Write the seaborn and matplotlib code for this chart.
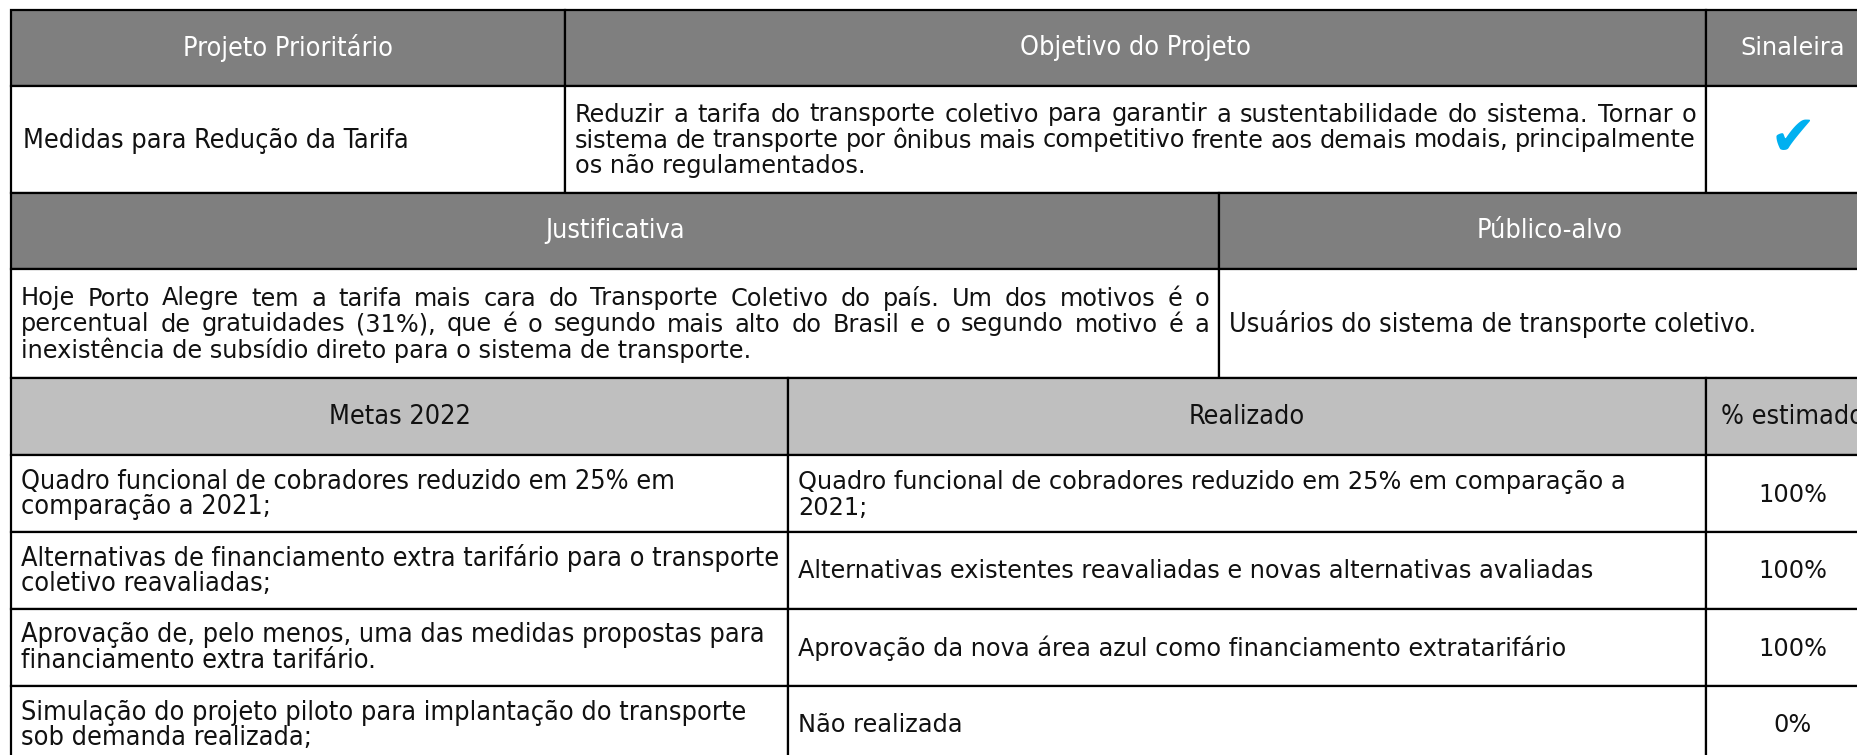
import matplotlib
matplotlib.use("Agg")
import matplotlib.pyplot as plt
import seaborn as sns
from matplotlib.patches import Rectangle
from matplotlib.font_manager import FontProperties

# ---------------- data ----------------
header_top = ["Projeto Prioritário", "Objetivo do Projeto", "Sinaleira"]
project_name = "Medidas para Redução da Tarifa"
objective_lines = [
    "Reduzir a tarifa do transporte coletivo para garantir a sustentabilidade do sistema. Tornar o",
    "sistema de transporte por ônibus mais competitivo frente aos demais modais, principalmente",
    "os não regulamentados.",
]
status_mark = "\u2714"
header_mid = ["Justificativa", "Público-alvo"]
justification_lines = [
    "Hoje Porto Alegre tem a tarifa mais cara do Transporte Coletivo do país. Um dos motivos é o",
    "percentual de gratuidades (31%), que é o segundo mais alto do Brasil e o segundo motivo é a",
    "inexistência de subsídio direto para o sistema de transporte.",
]
audience = "Usuários do sistema de transporte coletivo."
header_goals = ["Metas 2022", "Realizado", "% estimado"]
goals = [
    ["Quadro funcional de cobradores reduzido em 25% em", "comparação a 2021;"],
    ["Alternativas de financiamento extra tarifário para o transporte", "coletivo reavaliadas;"],
    ["Aprovação de, pelo menos, uma das medidas propostas para", "financiamento extra tarifário."],
    ["Simulação do projeto piloto para implantação do transporte", "sob demanda realizada;"],
]
achieved = [
    ["Quadro funcional de cobradores reduzido em 25% em comparação a", "2021;"],
    ["Alternativas existentes reavaliadas e novas alternativas avaliadas"],
    ["Aprovação da nova área azul como financiamento extratarifário"],
    ["Não realizada"],
]
pct_done = [100, 100, 100, 0]

# ---------------- style ----------------
sns.set_theme(style="white")
W, H = 1858, 755
DARK = "#7f7f7f"
LIGHT = "#bfbfbf"
INK = "#111111"
CHECK = "#00b0f0"

wide = FontProperties(family="DejaVu Sans", size=17.3)
cond = FontProperties(family="DejaVu Sans", stretch="condensed", size=19.4)

fig = plt.figure(figsize=(W / 100, H / 100), dpi=100)
ax = fig.add_axes([0, 0, 1, 1])
ax.set_xlim(0, W)
ax.set_ylim(H, 0)
ax.axis("off")
renderer = fig.canvas.get_renderer()

X0, XR = 11, 1880
Y = [10, 86, 193, 269, 378, 455, 532, 609, 686, 763]
COL1 = [X0, 565, 1706, XR]
COL2 = [X0, 1219, XR]
COL3 = [X0, 788, 1706, XR]
PAD = 10
LINE = 26


def cell(x0, x1, y0, y1, fc):
    ax.add_patch(Rectangle((x0, y0), x1 - x0, y1 - y0, facecolor=fc,
                           edgecolor="black", lw=1.6, clip_on=False))


def lines_y(y0, y1, n):
    c = (y0 + y1) / 2 + 1
    return [c + (i - (n - 1) / 2) * LINE for i in range(n)]


def put(x, y, s, fp, ha="left", color=INK):
    return ax.text(x, y, s, fontproperties=fp, ha=ha, va="center", color=color)


def justified(lines, x0, x1, y0, y1, fp):
    ys = lines_y(y0, y1, len(lines))
    for i, (ln, y) in enumerate(zip(lines, ys)):
        if i == len(lines) - 1:
            put(x0, y, ln, fp)
            continue
        words = ln.split(" ")
        arts = [put(0, y, w, fp) for w in words]
        widths = [a.get_window_extent(renderer).width for a in arts]
        gap = (x1 - x0 - sum(widths)) / (len(words) - 1)
        x = x0
        for a, w in zip(arts, widths):
            a.set_x(x)
            x += w + gap


# ---- section 1 ----
for i in range(3):
    cell(COL1[i], COL1[i + 1], Y[0], Y[1], DARK)
    cell(COL1[i], COL1[i + 1], Y[1], Y[2], "white")
hdr_fonts = [cond, cond, wide]
for i, t in enumerate(header_top):
    put((COL1[i] + COL1[i + 1]) / 2, (Y[0] + Y[1]) / 2, t, hdr_fonts[i], ha="center", color="white")
put(COL1[0] + PAD + 2, (Y[1] + Y[2]) / 2 + 1, project_name, cond)
justified(objective_lines, COL1[1] + PAD, COL1[2] - PAD, Y[1], Y[2], wide)
ax.text((COL1[2] + COL1[3]) / 2, (Y[1] + Y[2]) / 2, status_mark, color=CHECK,
        fontsize=40, ha="center", va="center", family="DejaVu Sans")

# ---- section 2 ----
for i in range(2):
    cell(COL2[i], COL2[i + 1], Y[2], Y[3], DARK)
    cell(COL2[i], COL2[i + 1], Y[3], Y[4], "white")
for i, t in enumerate(header_mid):
    put((COL2[i] + COL2[i + 1]) / 2, (Y[2] + Y[3]) / 2, t, cond, ha="center", color="white")
justified(justification_lines, COL2[0] + PAD, COL2[1] - PAD, Y[3], Y[4], wide)
put(COL2[1] + PAD, (Y[3] + Y[4]) / 2 + 1, audience, cond)

# ---- section 3 ----
for i in range(3):
    cell(COL3[i], COL3[i + 1], Y[4], Y[5], LIGHT)
for i, t in enumerate(header_goals):
    put((COL3[i] + COL3[i + 1]) / 2, (Y[4] + Y[5]) / 2, t, cond, ha="center")
for r in range(len(goals)):
    y0, y1 = Y[5 + r], Y[6 + r]
    for i in range(3):
        cell(COL3[i], COL3[i + 1], y0, y1, "white")
    for ln, y in zip(goals[r], lines_y(y0, y1, len(goals[r]))):
        put(COL3[0] + PAD, y, ln, cond)
    for ln, y in zip(achieved[r], lines_y(y0, y1, len(achieved[r]))):
        put(COL3[1] + PAD, y, ln, wide)
    put((COL3[2] + COL3[3]) / 2, (y0 + y1) / 2 + 1, f"{pct_done[r]}%", wide, ha="center")

fig.savefig("out.png", dpi=100)
